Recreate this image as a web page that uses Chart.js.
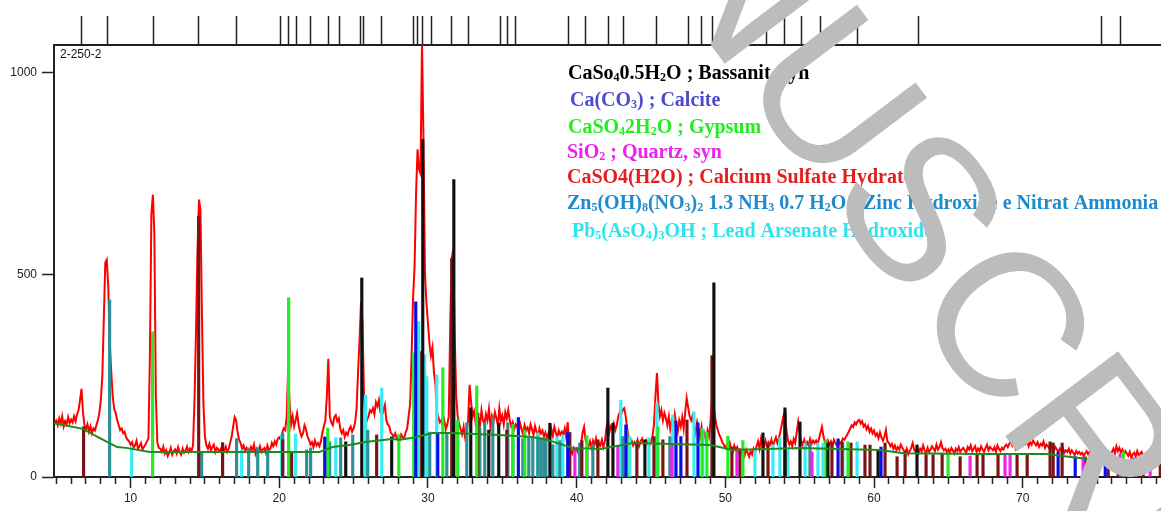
<!DOCTYPE html>
<html>
<head>
<meta charset="utf-8">
<script src="https://cdn.jsdelivr.net/npm/chart.js@4.4.1/dist/chart.umd.min.js"></script>
<style>
  html, body { margin: 0; padding: 0; background: #ffffff; overflow: hidden; }
  canvas { display: block; }
</style>
</head>
<body>
<canvas id="xrd" width="1161" height="511"></canvas>
<script>
// ---- measured scan (2θ in degrees, 0.1° steps) ----
const scanStart = 4.9;
const scanStep = 0.1;
const scanCounts = [
  135,
  140,128,145,132,150,125,138,130,148,133,
  142,135,150,138,155,165,190,218,160,128,
  118,130,112,125,108,120,115,128,140,158,
  190,250,390,530,537,470,330,260,200,168,
  158,140,128,116,120,108,112,98,92,88,
  80,86,72,78,90,70,76,84,68,74,
  80,88,95,300,650,698,600,200,85,72,
  70,62,75,58,66,52,60,72,55,64,
  68,58,74,62,55,70,60,66,75,62,
  70,64,78,190,360,560,686,660,400,180,
  100,78,70,82,66,74,80,62,72,68,
  64,72,58,66,75,62,70,85,100,125,
  148,140,110,92,84,70,78,64,72,66,
  60,74,66,80,58,70,64,76,62,68,
  72,60,78,66,70,84,76,88,80,95,
  98,92,110,120,116,150,270,180,130,150,
  125,140,158,130,112,100,108,128,118,100,
  92,80,86,74,90,78,84,76,88,110,
  125,140,200,292,150,135,128,148,153,138,
  145,120,108,116,99,110,104,118,125,112,
  120,135,170,260,340,433,380,200,150,140,
  150,165,160,170,155,185,175,190,160,150,
  165,178,140,130,125,110,105,100,108,95,
  100,92,105,98,95,110,120,150,180,300,
  445,520,700,810,760,750,1075,830,500,430,
  380,330,300,320,260,230,160,148,135,140,
  125,140,118,130,150,381,540,562,350,200,
  150,130,118,105,124,98,112,140,228,185,
  150,162,135,158,145,128,165,140,130,155,
  140,168,125,150,135,160,145,128,170,138,
  152,130,160,145,166,140,125,135,118,130,
  125,110,132,118,105,128,115,122,108,130,
  118,104,126,112,98,120,108,115,100,110,
  96,108,92,118,102,124,110,98,115,105,
  112,104,120,98,136,78,66,58,72,64,
  70,60,74,82,110,124,92,80,76,88,
  72,90,80,95,68,84,78,92,74,88,
  120,141,110,125,118,132,116,128,150,160,
  155,166,170,150,120,98,84,90,78,86,
  80,92,76,88,95,82,74,90,85,78,
  88,100,130,200,257,180,150,165,140,158,
  145,128,150,118,138,125,155,130,112,140,
  125,148,120,160,195,172,150,140,152,128,
  110,135,118,100,124,96,108,88,115,100,
  135,190,178,150,128,115,104,96,86,80,
  72,80,66,84,70,62,78,68,74,60,
  66,58,72,54,68,60,50,64,56,70,
  62,76,88,70,95,82,74,90,78,86,
  80,92,75,88,98,84,96,112,130,150,
  158,120,92,80,88,76,94,84,110,136,
  110,88,80,92,76,86,78,94,82,90,
  84,90,80,95,110,124,100,86,78,90,
  80,88,76,92,84,78,90,82,86,95,
  92,98,105,112,120,128,124,135,130,138,
  141,132,138,125,130,118,126,112,120,108,
  115,102,108,96,110,98,90,100,116,88,
  85,76,82,70,78,66,74,68,80,72,
  66,60,70,56,64,72,84,68,62,74,
  60,70,64,78,66,58,72,62,68,76,
  70,64,80,68,74,86,72,66,70,62,
  68,60,72,66,58,70,64,74,62,68,
  72,66,60,74,68,78,64,70,76,62,
  70,64,76,68,62,72,80,66,74,70,
  66,74,62,78,70,64,72,68,76,80,
  74,82,90,78,86,72,88,80,94,84,
  78,88,82,92,76,86,80,90,84,78,
  86,74,82,78,88,72,80,76,70,78,
  72,66,74,68,62,70,64,72,60,66,
  62,70,58,66,60,54,64,58,62,56,
  60,52,58,64,56,62,66,78,88,99,
  95,80,66,58,52,48,56,50,46,54,
  62,70,58,76,64,72,60,68,56,64,
  58,52,62,48,56,60,50,64,54,58,
  62,50,56,48,60,52,58,46,55,62,
  50,58,52,56
];

// ---- fitted background ----
const backgroundAngle  = [4.85, 6.8, 7.9, 9.1, 9.7, 11.3, 16.9, 22.7, 23.1, 23.6, 24.7, 25.9, 27.6, 28.1, 29.0, 30.3, 31.5, 34.8, 37.0, 38.0, 39.7, 41.6, 43.8, 49.0, 50.5, 55.0, 60.4, 62.0, 67.0, 71.6, 73.5, 75.0, 79.3];
const backgroundCounts = [133, 119, 97, 74, 72, 62, 62, 62, 67, 74, 79, 87, 94, 92, 97, 109, 109, 104, 99, 92, 72, 69, 84, 79, 67, 72, 67, 59, 57, 57, 48, 42, 42];

// ---- reference patterns (stick positions, 2θ, and heights) ----
const bassaniteAngle  = [24.47, 25.55, 27.56, 29.65, 31.74, 32.88, 34.09, 34.76, 38.20, 42.10, 42.44, 44.59, 49.23, 52.53, 54.01, 55.02, 56.90, 60.27, 62.89, 74.87];
const bassaniteCounts = [87, 492, 99, 834, 735, 171, 116, 133, 133, 220, 133, 92, 480, 109, 171, 136, 84, 67, 79, 84];

const calciteAngle  = [23.06, 29.18, 30.66, 36.08, 39.40, 43.31, 46.68, 47.01, 48.16, 57.58, 60.47, 72.38, 73.53, 75.55];
const calciteCounts = [99, 433, 109, 147, 111, 129, 138, 100, 134, 94, 74, 62, 50, 47];

const gypsumAngle  = [11.48, 20.63, 23.26, 28.04, 29.04, 31.00, 32.00, 33.28, 35.71, 36.51, 40.69, 43.38, 45.46, 48.43, 48.76, 50.17, 51.18, 56.77, 58.25, 64.98, 76.76];
const gypsumCounts = [359, 443, 121, 105, 307, 270, 141, 225, 130, 116, 102, 116, 124, 116, 111, 101, 90, 92, 87, 57, 62];

const quartzAngle  = [39.88, 40.69, 42.77, 46.40, 50.78, 55.83, 66.46, 68.81, 69.15, 74.06, 76.55, 78.57];
const quartzCounts = [67, 67, 77, 82, 67, 62, 52, 55, 57, 50, 57, 42];

const sulfateHydrateAngle  = [6.84, 14.58, 16.19, 20.23, 20.83, 26.55, 29.58, 31.60, 33.35, 35.30, 39.54, 40.35, 41.43, 44.05, 45.20, 45.80, 47.42, 49.10, 50.44, 50.98, 52.87, 54.01, 57.17, 57.85, 58.45, 59.39, 59.73, 60.74, 61.55, 62.09, 63.50, 63.97, 64.58, 65.79, 66.93, 67.33, 68.34, 69.62, 70.30, 71.84, 72.05, 72.65, 74.20, 74.74, 75.75, 76.42, 77.43, 77.76, 78.10, 79.25];
const sulfateHydrateCounts = [124, 645, 85, 92, 62, 104, 310, 540, 158, 116, 110, 90, 92, 84, 100, 92, 141, 300, 74, 70, 80, 160, 84, 87, 84, 79, 79, 84, 50, 62, 55, 55, 59, 50, 55, 55, 55, 55, 55, 87, 84, 84, 50, 59, 42, 47, 47, 42, 42, 42];

const zincNitrateAngle  = [8.59, 14.78, 17.13, 17.94, 18.55, 19.22, 20.23, 21.84, 22.11, 23.39, 24.13, 24.94, 25.95, 30.12, 31.27, 32.61, 33.49, 33.82, 34.36, 35.37, 35.71, 36.38, 36.78, 37.05, 37.39, 37.59, 37.79, 37.93, 38.40, 38.87, 40.21, 41.09, 43.11, 46.27, 55.69];
const zincNitrateCounts = [438, 60, 95, 72, 72, 67, 109, 67, 72, 87, 97, 104, 116, 111, 110, 134, 121, 134, 148, 134, 97, 95, 97, 99, 99, 97, 97, 95, 80, 90, 84, 80, 100, 100, 84];

const leadArsenateAngle  = [10.07, 17.47, 20.16, 21.10, 23.80, 25.81, 26.89, 29.38, 29.78, 29.92, 30.59, 37.39, 38.67, 39.07, 40.21, 42.97, 43.58, 44.86, 45.40, 46.47, 47.89, 48.49, 51.99, 53.20, 53.67, 54.21, 55.36, 56.23, 56.57, 57.91, 58.86];
const leadArsenateCounts = [74, 67, 104, 106, 97, 203, 220, 384, 302, 248, 252, 109, 100, 104, 84, 190, 100, 97, 183, 153, 161, 120, 67, 80, 97, 67, 84, 84, 84, 84, 87];

// matched peak markers shown along the top edge
const peakMarkers = [6.70, 8.45, 11.55, 14.58, 17.13, 20.09, 20.63, 21.17, 22.11, 23.32, 24.06, 25.48, 25.68, 26.89, 29.04, 29.31, 29.65, 30.26, 31.60, 32.75, 34.90, 35.37, 35.91, 39.47, 40.62, 42.17, 43.18, 45.40, 47.49, 48.43, 49.17, 52.80, 54.01, 55.15, 56.43, 58.86, 62.96, 75.28, 76.55];

// axis ticks
const countTicks = [0, 500, 1000];
const angleLabelEvery = 10;

// text
const sampleId = '2-250-2';
const phaseNames = [
  'CaSo₄0.5H₂O ; Bassanit, syn',
  'Ca(CO₃) ; Calcite',
  'CaSO₄2H₂O ; Gypsum',
  'SiO₂ ; Quartz, syn',
  'CaSO4(H2O) ; Calcium Sulfate Hydrate',
  'Zn₅(OH)₈(NO₃)₂ 1.3 NH₃ 0.7 H₂O ; Zinc Hydroxide e Nitrat Ammonia',
  'Pb₅(AsO₄)₃OH ; Lead Arsenate Hydroxide'
];
const stampText = 'MANUSCRIPT';

// ---- styling ----
const phaseTextColors = ['#000000', '#4b4bcf', '#22ee22', '#ee22ee', '#e11f1f', '#1e8bcf', '#2ee4ec'];
const phaseTextPos = [[568, 79], [570, 106], [568, 133], [567, 158], [567, 183], [567, 209], [572, 237]];
const stickColors = {
  bassanite: '#111111',
  calcite: '#0b0bee',
  gypsum: '#22ee22',
  quartz: '#ee22ee',
  sulfateHydrate: '#7a1414',
  zincNitrate: '#2e8f96',
  leadArsenate: '#33eef5'
};
const axisColor = '#222222';
const tickFont = { family: '"Liberation Sans", Arial, sans-serif', size: 12 };
// diagonal stamp: centre of its 4th letter, rotation, size, colour
const stampStyle = { letterIndex: 3, cx: 838, cy: 92, angleDeg: 53, size: 205, color: '#bcbcbc' };

const angleMin = 4.85, angleMax = 79.3, countMax = 1068;

function pairs(xs, ys) { return xs.map((x, i) => ({ x: x, y: ys[i] })); }

function stickSet(label, xs, ys, color) {
  return {
    type: 'bar', label: label, data: pairs(xs, ys),
    backgroundColor: color, borderWidth: 0,
    barThickness: 2.5, grouped: false, order: 5
  };
}

const scanPoints = scanCounts.map((c, i) => ({ x: Math.round((scanStart + i * scanStep) * 100) / 100, y: c }));

const integerAngles = [];
for (let a = Math.ceil(angleMin); a <= Math.floor(angleMax); a++) integerAngles.push(a);

const SUBS = '₀₁₂₃₄₅₆₇₈₉';
function drawFormula(ctx, text, x, y, color) {
  const runs = [];
  let cur = '', curSub = false;
  for (const ch of text) {
    const idx = SUBS.indexOf(ch);
    const isSub = idx >= 0;
    const c = isSub ? String(idx) : ch;
    if (cur && isSub !== curSub) { runs.push([cur, curSub]); cur = ''; }
    cur += c; curSub = isSub;
  }
  if (cur) runs.push([cur, curSub]);
  ctx.fillStyle = color;
  ctx.textBaseline = 'alphabetic';
  ctx.textAlign = 'left';
  for (const [s, sub] of runs) {
    ctx.font = sub ? 'bold 12px "Liberation Serif", "Times New Roman", serif'
                   : 'bold 20px "Liberation Serif", "Times New Roman", serif';
    ctx.fillText(s, x, y + (sub ? 2 : 0));
    x += ctx.measureText(s).width;
  }
}

const textLayer = {
  id: 'textLayer',
  afterDatasetsDraw(chart) {
    const { ctx, chartArea } = chart;
    ctx.save();
    ctx.font = '12px "Liberation Sans", Arial, sans-serif';
    ctx.fillStyle = '#111111';
    ctx.textBaseline = 'middle';
    ctx.textAlign = 'left';
    ctx.fillText(sampleId, chartArea.left + 6, chartArea.top + 10);
    phaseNames.forEach((name, i) => {
      drawFormula(ctx, name, phaseTextPos[i][0], phaseTextPos[i][1], phaseTextColors[i]);
    });
    ctx.restore();
  },
  afterDraw(chart) {
    const ctx = chart.ctx;
    const st = stampStyle;
    ctx.save();
    ctx.font = st.size + 'px "Liberation Sans", Arial, sans-serif';
    ctx.textBaseline = 'alphabetic';
    ctx.textAlign = 'left';
    const w0 = ctx.measureText(stampText.slice(0, st.letterIndex)).width;
    const wl = ctx.measureText(stampText[st.letterIndex]).width;
    const a = st.angleDeg * Math.PI / 180;
    const lx = w0 + wl / 2, ly = -0.358 * st.size;
    const ox = st.cx - (lx * Math.cos(a) - ly * Math.sin(a));
    const oy = st.cy - (lx * Math.sin(a) + ly * Math.cos(a));
    ctx.translate(ox, oy);
    ctx.rotate(a);
    ctx.fillStyle = st.color;
    ctx.fillText(stampText, 0, 0);
    ctx.restore();
  }
};

new Chart(document.getElementById('xrd'), {
  type: 'line',
  data: {
    datasets: [
      {
        label: 'scan', data: scanPoints, borderColor: '#ff0000', borderWidth: 2,
        pointRadius: 0, tension: 0, fill: false, order: 10
      },
      stickSet('Bassanit, syn', bassaniteAngle, bassaniteCounts, stickColors.bassanite),
      stickSet('Calcite', calciteAngle, calciteCounts, stickColors.calcite),
      stickSet('Gypsum', gypsumAngle, gypsumCounts, stickColors.gypsum),
      stickSet('Quartz, syn', quartzAngle, quartzCounts, stickColors.quartz),
      stickSet('Calcium Sulfate Hydrate', sulfateHydrateAngle, sulfateHydrateCounts, stickColors.sulfateHydrate),
      stickSet('Zinc Hydroxide e Nitrat Ammonia', zincNitrateAngle, zincNitrateCounts, stickColors.zincNitrate),
      stickSet('Lead Arsenate Hydroxide', leadArsenateAngle, leadArsenateCounts, stickColors.leadArsenate),
      {
        label: 'background', data: pairs(backgroundAngle, backgroundCounts), borderColor: '#1f8a1f',
        borderWidth: 2, pointRadius: 0, tension: 0, fill: false, order: 1
      }
    ]
  },
  options: {
    responsive: false,
    animation: false,
    events: [],
    layout: { padding: 0 },
    plugins: { legend: { display: false }, tooltip: { enabled: false } },
    scales: {
      x: {
        type: 'linear', position: 'bottom', min: angleMin, max: angleMax, offset: false,
        afterBuildTicks: s => { s.ticks = integerAngles.map(v => ({ value: v })); },
        afterFit: s => { s.height = 34; },
        grid: {
          display: true, drawOnChartArea: false, offset: false,
          tickLength: 11, tickWidth: 1.5, tickColor: axisColor,
          tickBorderDash: c => (c.tick && c.tick.value % angleLabelEvery === 0) ? [] : [6, 40]
        },
        border: { display: true, color: axisColor, width: 2 },
        ticks: {
          autoSkip: false, maxRotation: 0, minRotation: 0, padding: 3, color: axisColor, font: tickFont,
          callback: v => (v % angleLabelEvery === 0 ? String(v) : '')
        }
      },
      xTop: {
        type: 'linear', position: 'top', min: angleMin, max: angleMax, offset: false,
        afterBuildTicks: s => { s.ticks = peakMarkers.map(v => ({ value: v })); },
        afterFit: s => { s.height = 45; },
        grid: {
          display: true, drawOnChartArea: false, offset: false,
          tickLength: 29, tickWidth: 1.5, tickColor: axisColor
        },
        border: { display: true, color: axisColor, width: 2 },
        ticks: { display: false, autoSkip: false }
      },
      y: {
        type: 'linear', position: 'left', min: 0, max: countMax,
        afterBuildTicks: s => { s.ticks = countTicks.map(v => ({ value: v })); },
        afterFit: s => { s.width = 54; },
        grid: {
          display: true, drawOnChartArea: false,
          tickLength: 12, tickWidth: 1.5, tickColor: axisColor
        },
        border: { display: true, color: axisColor, width: 2 },
        ticks: { padding: 5, color: axisColor, font: tickFont, callback: v => String(v) }
      }
    }
  },
  plugins: [textLayer]
});
</script>
</body>
</html>
